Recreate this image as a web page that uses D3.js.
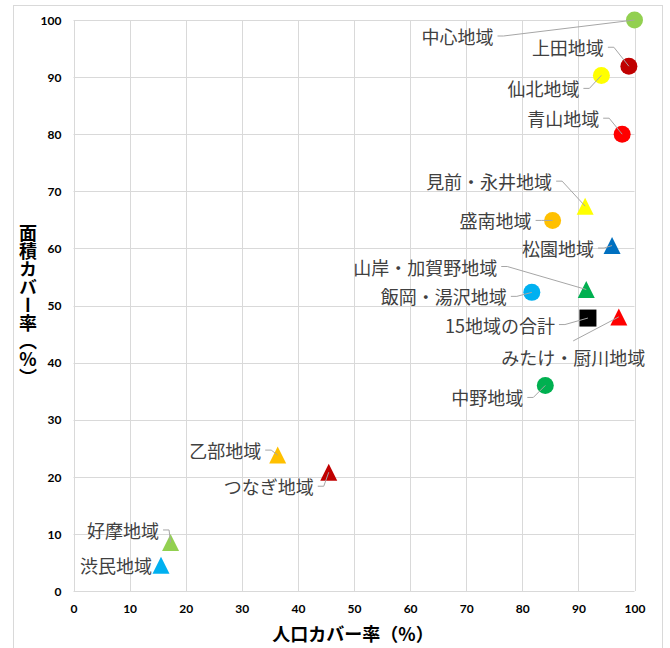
<!DOCTYPE html>
<html>
<head>
<meta charset="utf-8">
<script src="https://cdn.jsdelivr.net/npm/d3@7"></script>
<style>
  html, body { margin: 0; padding: 0; background: #fff; }
  svg { display: block; }
</style>
</head>
<body>
<svg id="chart" width="670" height="648"></svg>
<script>
// Coverage by district: population coverage (x) vs. area coverage (y), in %
const regions = [
  "中心地域", "上田地域", "仙北地域", "青山地域", "見前・永井地域", "盛南地域",
  "松園地域", "山岸・加賀野地域", "飯岡・湯沢地域", "15地域の合計", "みたけ・厨川地域",
  "中野地域", "乙部地域", "つなぎ地域", "好摩地域", "渋民地域"
];
const populationCoverage = [100, 99.0, 94.1, 97.8, 91.2, 85.4, 96.0, 91.4, 81.7, 91.7, 97.2, 84.1, 36.4, 45.5, 17.3, 15.6];
const areaCoverage       = [100, 91.9, 90.3, 80.0, 67.4, 64.9, 60.5, 52.8, 52.3, 47.8, 48.0, 36.0, 23.8, 20.8,  8.5,  4.5];
const markerShapes = [
  "circle", "circle", "circle", "circle", "triangle", "circle",
  "triangle", "triangle", "circle", "square", "triangle",
  "circle", "triangle", "triangle", "triangle", "triangle"
];
const markerColors = [
  "#92D050", "#C00000", "#FFFF00", "#FF0000", "#FFFF00", "#FFC000",
  "#0070C0", "#00B050", "#00B0F0", "#000000", "#FF0000",
  "#00B050", "#FFC000", "#C00000", "#92D050", "#00B0F0"
];
const xTicks = [0, 10, 20, 30, 40, 50, 60, 70, 80, 90, 100];
const yTicks = [0, 10, 20, 30, 40, 50, 60, 70, 80, 90, 100];
const xTitle = "人口カバー率（%）";
const yTitle = "面積カバー率（%）";

// Label placement: offset (px) of each label's right end / middle from its marker,
// and how its leader line attaches ("right" edge, "top" edge, or none).
const labelOffsets = [
  [-141, 16], [-25, -19], [-22, 13], [-23, -16], [-33, -25], [-21, 0],
  [-18, 2.5], [-89, -23], [-25, 4], [-33, 6.5], [26.4, 40],
  [-22, 12], [-16.5, -5], [-15, 14], [-11.5, -12.5], [-9, 0]
];
const leaderModes = [
  "right", "right", "right", "right", "right", "right",
  "right", "right", "right", "right", "top",
  "right", "right", "right", "right", "none"
];

const svg = d3.select("#chart");
const plot = { left: 73.5, right: 634.5, top: 20, bottom: 591 };

const x = d3.scaleLinear().domain([0, 100]).range([plot.left, plot.right]);
const y = d3.scaleLinear().domain([0, 100]).range([plot.bottom, plot.top]);

// Chart frame (runs past the bottom edge of the canvas)
svg.append("rect")
  .attr("x", 13.5).attr("y", 5.5)
  .attr("width", 649).attr("height", 660)
  .attr("fill", "#fff")
  .attr("stroke", "#d9d9d9")
  .attr("stroke-width", 1);

// Gridlines
const grid = svg.append("g").attr("class", "grid");
grid.selectAll("line.vx").data(xTicks).join("line")
  .attr("class", "vx")
  .attr("x1", d => Math.round(x(d)) + 0.5).attr("x2", d => Math.round(x(d)) + 0.5)
  .attr("y1", plot.top).attr("y2", plot.bottom)
  .attr("stroke", "#d9d9d9").attr("stroke-width", 1);
grid.selectAll("line.hy").data(yTicks).join("line")
  .attr("class", "hy")
  .attr("x1", plot.left).attr("x2", plot.right)
  .attr("y1", d => Math.round(y(d)) + 0.5).attr("y2", d => Math.round(y(d)) + 0.5)
  .attr("stroke", "#d9d9d9").attr("stroke-width", 1);

// Axes (tick labels only; grid draws the lines)
const tickFont = "Lato, 'Liberation Sans', sans-serif";
const xAxis = svg.append("g")
  .attr("transform", `translate(0,${plot.bottom})`)
  .call(d3.axisBottom(x).tickValues(xTicks).tickSize(0).tickPadding(13).tickFormat(d3.format("d")));
const yAxis = svg.append("g")
  .attr("transform", `translate(${plot.left},0)`)
  .call(d3.axisLeft(y).tickValues(yTicks).tickSize(0).tickPadding(12).tickFormat(d3.format("d")));
[xAxis, yAxis].forEach(g => {
  g.select(".domain").remove();
  g.selectAll("text")
    .attr("fill", "#000")
    .style("font-family", tickFont)
    .style("font-size", "12px")
    .style("font-weight", "bold");
});
yAxis.selectAll("text").attr("dy", "0.35em");

// Axis titles
const titleFont = "'Noto Sans CJK JP', 'Noto Sans', sans-serif";
svg.append("text")
  .attr("x", (plot.left + plot.right) / 2 - 1)
  .attr("y", 633)
  .attr("text-anchor", "middle")
  .attr("dominant-baseline", "central")
  .style("font-family", titleFont)
  .style("font-size", "18px")
  .style("font-weight", "bold")
  .attr("fill", "#000")
  .text(xTitle);

svg.append("text")
  .attr("x", 28)
  .attr("y", (plot.top + plot.bottom) / 2)
  .attr("text-anchor", "middle")
  .style("writing-mode", "vertical-rl")
  .style("text-orientation", "upright")
  .style("font-family", titleFont)
  .style("font-size", "18px")
  .style("font-weight", "bold")
  .attr("fill", "#000")
  .text(yTitle);

// Marker shapes
const boxTriangle = {
  draw(ctx, size) {
    const s = Math.sqrt(size);
    ctx.moveTo(0, -s / 2);
    ctx.lineTo(s / 2, s / 2);
    ctx.lineTo(-s / 2, s / 2);
    ctx.closePath();
  }
};
const markerSide = 17;
const symbolFor = shape => {
  if (shape === "circle") return d3.symbol(d3.symbolCircle, Math.PI * (markerSide / 2) ** 2);
  if (shape === "square") return d3.symbol(d3.symbolSquare, markerSide * markerSide);
  return d3.symbol(boxTriangle, markerSide * markerSide);
};

const points = regions.map((name, i) => ({
  name,
  px: populationCoverage[i],
  ay: areaCoverage[i],
  shape: markerShapes[i],
  color: markerColors[i],
  offset: labelOffsets[i],
  leader: leaderModes[i]
}));

svg.append("g").attr("class", "markers")
  .selectAll("path").data(points).join("path")
  .attr("transform", d => `translate(${x(d.px)},${y(d.ay)})`)
  .attr("d", d => symbolFor(d.shape)())
  .attr("fill", d => d.color);

// Data labels
const leaders = svg.append("g").attr("class", "leaders");
const labels = svg.append("g").attr("class", "labels");
labels.selectAll("text").data(points).join("text")
  .attr("x", d => x(d.px) + d.offset[0])
  .attr("y", d => y(d.ay) + d.offset[1])
  .attr("text-anchor", "end")
  .attr("dominant-baseline", "central")
  .style("font-family", titleFont)
  .style("font-size", "18px")
  .attr("fill", "#404040")
  .text(d => d.name)
  .each(function (d) { d.box = this.getBBox(); });

// Leader lines from each label to its marker centre
points.forEach(d => {
  if (d.leader === "none") return;
  const cx = x(d.px), cy = y(d.ay);
  const ty = y(d.ay) + d.offset[1];
  let pts;
  if (d.leader === "top") {
    pts = [[d.box.x + d.box.width / 2, d.box.y - 3], [cx, cy]];
  } else {
    const sx = d.box.x + d.box.width + 4;
    const ex = Math.min(sx + 6, cx);
    pts = [[sx, ty], [ex, ty], [cx, cy]];
  }
  leaders.append("path")
    .attr("d", d3.line()(pts))
    .attr("fill", "none")
    .attr("stroke", "#a6a6a6")
    .attr("stroke-width", 1);
});
</script>
</body>
</html>
